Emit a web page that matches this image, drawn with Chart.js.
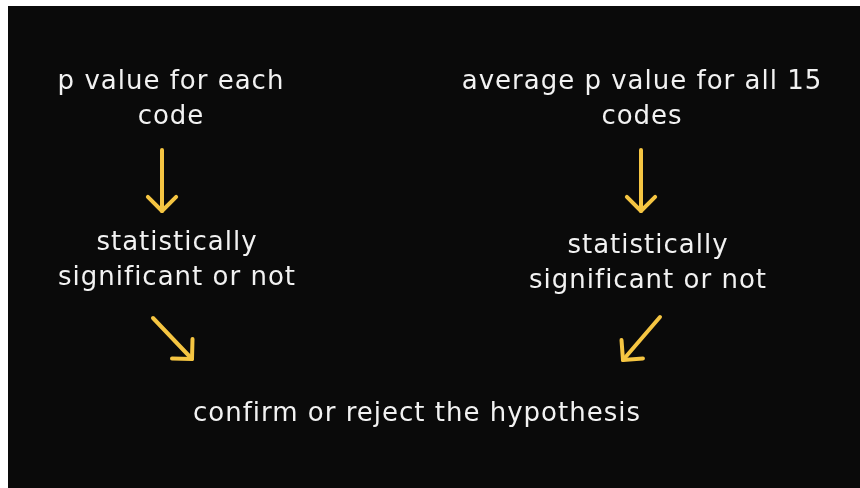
<!DOCTYPE html>
<html>
<head>
<meta charset="utf-8">
<script src="https://cdn.jsdelivr.net/npm/chart.js@4.4.1/dist/chart.umd.min.js"></script>
<style>
  html, body { margin: 0; padding: 0; background: #ffffff; }
  #wrap { position: absolute; left: 8px; top: 6px; width: 852px; height: 482px; background: #0a0a0a; }
</style>
</head>
<body>
<div id="wrap"><canvas id="flow"></canvas></div>
<script>
// node texts and where they sit (picture coordinates)
const nodeLines = [
    ['p value for each', 'code'],
    ['average p value for all 15', 'codes'],
    ['statistically', 'significant or not'],
    ['statistically', 'significant or not'],
    ['confirm or reject the hypothesis']
];
const nodeX = [171, 642, 177, 648, 417];
const nodeY = [82, 82, 243, 246, 414];

// arrows: start and tip
const arrowStartX = [162, 641, 153, 660];
const arrowStartY = [150, 150, 318, 317];
const arrowEndX   = [162, 641, 192, 623];
const arrowEndY   = [211, 211, 359, 360];

const TEXT_COLOR  = '#f2f2f2';
const ARROW_COLOR = '#f5c542';
const FONT = '400 26px "DejaVu Sans", sans-serif';
const LINE_GAP = 35;

const arrowSets = arrowStartX.map((_, i) => ({
    data: [
        { x: arrowStartX[i], y: arrowStartY[i] },
        { x: arrowEndX[i],   y: arrowEndY[i] }
    ],
    showLine: true,
    borderColor: ARROW_COLOR,
    borderWidth: 4,
    borderCapStyle: 'round',
    pointRadius: 0,
    pointHoverRadius: 0
}));

/* =============================
   PLUGINS
============================= */
const arrowHeads = {
    id: 'arrowHeads',
    afterDatasetsDraw(chart) {
        const { ctx } = chart;
        const xs = chart.scales.x, ys = chart.scales.y;
        ctx.save();
        ctx.strokeStyle = ARROW_COLOR;
        ctx.lineWidth = 4;
        ctx.lineCap = 'round';
        ctx.lineJoin = 'round';
        arrowStartX.forEach((_, i) => {
            const x0 = xs.getPixelForValue(arrowStartX[i]);
            const y0 = ys.getPixelForValue(arrowStartY[i]);
            const x1 = xs.getPixelForValue(arrowEndX[i]);
            const y1 = ys.getPixelForValue(arrowEndY[i]);
            const ang = Math.atan2(y1 - y0, x1 - x0);
            const len = 20, spread = Math.PI / 4;
            ctx.beginPath();
            ctx.moveTo(x1 - len * Math.cos(ang - spread), y1 - len * Math.sin(ang - spread));
            ctx.lineTo(x1, y1);
            ctx.lineTo(x1 - len * Math.cos(ang + spread), y1 - len * Math.sin(ang + spread));
            ctx.stroke();
        });
        ctx.restore();
    }
};

const nodeText = {
    id: 'nodeText',
    afterDraw(chart) {
        const { ctx } = chart;
        const xs = chart.scales.x, ys = chart.scales.y;
        ctx.save();
        ctx.fillStyle = TEXT_COLOR;
        ctx.font = FONT;
        ctx.letterSpacing = '1px';
        ctx.textAlign = 'center';
        ctx.textBaseline = 'middle';
        nodeLines.forEach((lines, i) => {
            const px = xs.getPixelForValue(nodeX[i]);
            const py = ys.getPixelForValue(nodeY[i]);
            lines.forEach((t, j) => ctx.fillText(t, px, py + j * LINE_GAP));
        });
        ctx.restore();
    }
};

new Chart(document.getElementById('flow'), {
    type: 'scatter',
    data: { datasets: arrowSets },
    options: {
        responsive: true,
        maintainAspectRatio: false,
        animation: false,
        layout: { padding: 0 },
        plugins: { legend: { display: false }, tooltip: { enabled: false } },
        scales: {
            x: { type: 'linear', min: 8, max: 860, display: false },
            y: { type: 'linear', min: 6, max: 488, reverse: true, display: false }
        }
    },
    plugins: [arrowHeads, nodeText]
});
</script>
</body>
</html>
